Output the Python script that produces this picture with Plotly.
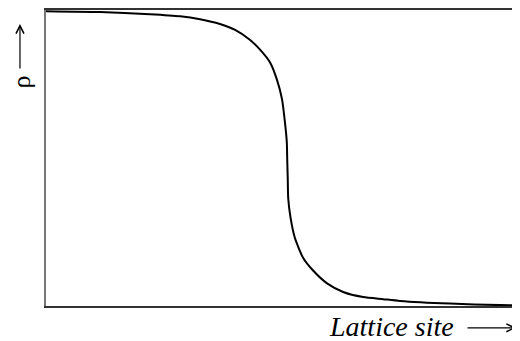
import plotly.graph_objects as go

# lattice site index and density
site = [0, 11.4, 21.9, 28.3, 32.5, 36.7, 39.9, 43.0, 45.2, 47.3, 48.7, 49.8,
        50.4, 50.8, 50.9, 51.0, 51.1, 51.6, 52.5, 54.2, 56.3, 59.3, 62.7,
        66.9, 71.1, 74.7, 85.2, 95.8, 100]
rho = [0.990, 0.987, 0.980, 0.973, 0.963, 0.947, 0.927, 0.894, 0.860, 0.817,
       0.761, 0.694, 0.618, 0.551, 0.485, 0.429, 0.362, 0.296, 0.229, 0.163,
       0.120, 0.076, 0.047, 0.030, 0.023, 0.017, 0.008, 0.003, 0.002]

fig = go.Figure(go.Scatter(
    x=site, y=rho, mode="lines",
    line=dict(color="black", width=2, shape="spline", smoothing=0.6),
    hoverinfo="skip",
))

fig.update_xaxes(range=[0, 100], showline=True, linecolor="#333", linewidth=2,
                 mirror=True, showticklabels=False, ticks="", showgrid=False,
                 zeroline=False)
fig.update_yaxes(range=[0, 0.994], showline=True, linecolor="#777", linewidth=2,
                 showticklabels=False, ticks="", showgrid=False, zeroline=False)

fig.add_annotation(text="<i>Lattice site</i>", xref="paper", yref="paper",
                   x=0.864, y=-0.0705, xanchor="right", yanchor="middle",
                   showarrow=False,
                   font=dict(family="Liberation Serif", size=28, color="black"))
fig.add_annotation(text="ρ", xref="paper", yref="paper", textangle=-90,
                   x=-0.0506, y=0.755, xanchor="center", yanchor="middle",
                   showarrow=False,
                   font=dict(family="Liberation Serif", size=26, color="black"))

# thin long arrows next to the axis labels
fig.add_annotation(text="", xref="paper", yref="paper", x=0.9916, y=-0.0738,
                   ax=-50, ay=0, showarrow=True, arrowhead=5, arrowsize=1.3,
                   arrowwidth=1.2, arrowcolor="black")
fig.add_annotation(text="", xref="paper", yref="paper", x=-0.0549, y=0.953,
                   ax=0, ay=46, showarrow=True, arrowhead=5, arrowsize=1.3,
                   arrowwidth=1.2, arrowcolor="black")

# page body adds an 8px offset, so the figure is sized to the remaining window
fig.update_layout(
    width=512, height=333,
    margin=dict(l=38, r=0, t=0, b=35),
    plot_bgcolor="white", paper_bgcolor="white",
    showlegend=False,
)

fig.write_html("out.html")
